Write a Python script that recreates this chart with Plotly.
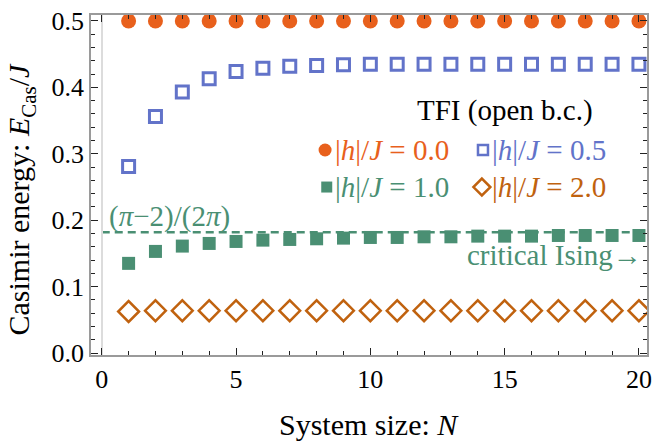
import plotly.graph_objects as go

# ---- data ----
N = [1, 2, 3, 4, 5, 6, 7, 8, 9, 10, 11, 12, 13, 14, 15, 16, 17, 18, 19, 20]
E_h00 = [0.5, 0.5, 0.5, 0.5, 0.5, 0.5, 0.5, 0.5, 0.5, 0.5,
         0.5, 0.5, 0.5, 0.5, 0.5, 0.5, 0.5, 0.5, 0.5, 0.5]
E_h05 = [0.281, 0.356, 0.393, 0.413, 0.424, 0.429, 0.432, 0.433, 0.434, 0.435,
         0.435, 0.435, 0.435, 0.435, 0.435, 0.435, 0.435, 0.435, 0.435, 0.435]
E_h10 = [0.135, 0.153, 0.161, 0.165, 0.168, 0.170, 0.171, 0.172, 0.173, 0.174,
         0.174, 0.175, 0.175, 0.176, 0.176, 0.176, 0.177, 0.177, 0.177, 0.177]
E_h20 = [0.0625, 0.0637, 0.0637, 0.0637, 0.0637, 0.0637, 0.0637, 0.0637, 0.0637, 0.0637,
         0.0637, 0.0637, 0.0637, 0.0637, 0.0637, 0.0637, 0.0637, 0.0637, 0.0637, 0.0637]
critical_value = 0.18169  # (pi-2)/(2pi)

labels = ["0.0", "0.5", "1.0", "2.0"]
x_ticks = [0, 5, 10, 15, 20]
y_ticks = [0.0, 0.1, 0.2, 0.3, 0.4, 0.5]
y_ticktext = ["0.0", "0.1", "0.2", "0.3", "0.4", "0.5"]

C_OR = "#E8601C"
C_BL = "#6273C9"
C_GR = "#4A8F73"
C_BR = "#C0620F"
FONT = "'Liberation Serif', 'Times New Roman', Times, 'DejaVu Serif', serif"

fig = go.Figure()

# critical line
XMIN, XMAX = -0.4, 20.3
fig.add_shape(type="line", xref="x", yref="y", x0=0, x1=XMAX,
              y0=critical_value, y1=critical_value,
              line=dict(color=C_GR, width=2.5, dash="8px,5px"), layer="below")

fig.add_trace(go.Scatter(x=N, y=E_h00, mode="markers",
                         marker=dict(symbol="circle", size=15, color=C_OR, line=dict(width=0))))
fig.add_trace(go.Scatter(x=N, y=E_h05, mode="markers",
                         marker=dict(symbol="square-open", size=12, color=C_BL, line=dict(width=3, color=C_BL))))
fig.add_trace(go.Scatter(x=N, y=E_h10, mode="markers",
                         marker=dict(symbol="square", size=13, color=C_GR, line=dict(width=0))))
fig.add_trace(go.Scatter(x=N, y=E_h20, mode="markers",
                         marker=dict(symbol="diamond-open", size=16, color=C_BR, line=dict(width=2.5, color=C_BR))))

# legend keys on an overlay axis (plot-area fractions)
key_x = [0.421, 0.705, 0.424, 0.703]
key_y = [0.603, 0.603, 0.494, 0.494]
key_sym = ["circle", "square-open", "square", "diamond-open"]
key_size = [13, 10, 11, 13]
key_col = [C_OR, C_BL, C_GR, C_BR]
for i in range(4):
    lw = 0 if key_sym[i] in ("circle", "square") else 2.5
    fig.add_trace(go.Scatter(x=[key_x[i]], y=[key_y[i]], xaxis="x2", yaxis="y2", mode="markers",
                             marker=dict(symbol=key_sym[i], size=key_size[i], color=key_col[i],
                                         line=dict(width=lw, color=key_col[i]))))

text_x = [0.435, 0.718, 0.435, 0.718]
for i in range(4):
    fig.add_annotation(xref="paper", yref="paper", x=text_x[i], y=key_y[i],
                       xanchor="left", yanchor="middle", showarrow=False,
                       text=f"|<i>h</i>|/<i>J</i> = {labels[i]}",
                       font=dict(family=FONT, size=29, color=key_col[i]))

fig.add_annotation(xref="paper", yref="paper", x=0.745, y=0.72, xanchor="center", yanchor="middle",
                   showarrow=False, text="TFI (open b.c.)", font=dict(family=FONT, size=29, color="black"))
fig.add_annotation(xref="paper", yref="paper", x=0.995, y=0.294, xanchor="right", yanchor="middle",
                   showarrow=False, text="critical Ising→", font=dict(family=FONT, size=29, color=C_GR))
fig.add_annotation(xref="x", yref="y", x=0.2, y=0.205, xanchor="left", yanchor="middle",
                   showarrow=False, text="(<i>π</i>−2)/(2<i>π</i>)", font=dict(family=FONT, size=29, color=C_GR))

# axis titles
fig.add_annotation(xref="paper", yref="paper", x=0.5, y=-0.205, xanchor="center", yanchor="middle",
                   showarrow=False, text="System size: <i>N</i>", font=dict(family=FONT, size=30, color="black"))
fig.add_annotation(xref="paper", yref="paper", x=-0.126, y=0.46, xanchor="center", yanchor="middle",
                   textangle=-90, showarrow=False,
                   text="Casimir energy: <i>E</i><sub>Cas</sub>/<i>J</i>",
                   font=dict(family=FONT, size=30, color="black"))

axis_common = dict(showline=True, linecolor="#9a9a9a", linewidth=1.5, mirror="ticks",
                   ticks="inside", ticklen=7, tickwidth=1.2, tickcolor="#222",
                   showgrid=False, automargin=False,
                   tickfont=dict(family=FONT, size=26, color="black"))

fig.update_layout(
    width=655, height=443,
    margin=dict(l=91, r=8, t=15, b=88),
    paper_bgcolor="white", plot_bgcolor="white",
    showlegend=False,
    font=dict(family=FONT),
    xaxis=dict(range=[XMIN, XMAX], tickvals=x_ticks, ticktext=[str(v) for v in x_ticks],
               zeroline=True, zerolinecolor="#dcdcdc", zerolinewidth=1.5,
               minor=dict(dtick=1, tick0=0, ticks="inside", ticklen=4, tickcolor="#222", showgrid=False),
               **axis_common),
    yaxis=dict(range=[-0.003, 0.509], tickvals=y_ticks, ticktext=y_ticktext, zeroline=False,
               minor=dict(dtick=0.02, tick0=0, ticks="inside", ticklen=4, tickcolor="#222", showgrid=False),
               **axis_common),
    xaxis2=dict(overlaying="x", range=[0, 1], visible=False),
    yaxis2=dict(overlaying="y", range=[0, 1], visible=False),
)

fig.write_html("out.html", config={"displayModeBar": False},
               post_script="document.body.style.margin='0';document.body.style.padding='0';")
